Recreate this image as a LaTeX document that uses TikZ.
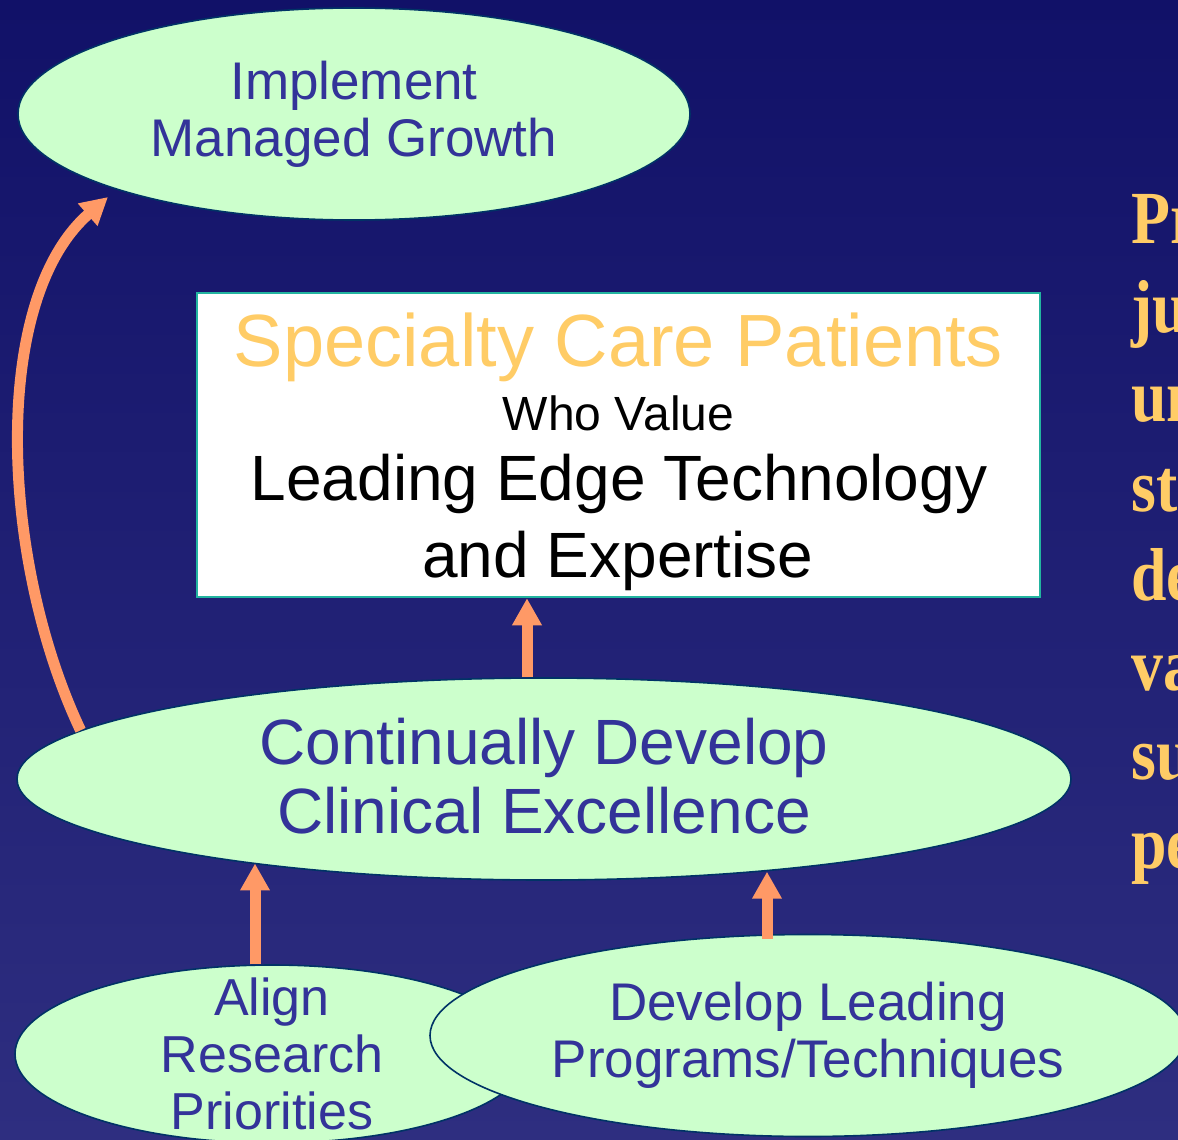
\documentclass[tikz,border=0pt]{standalone}
\usepackage{fontspec}
\setmainfont{Liberation Sans}
\newfontfamily\sidefont{Liberation Serif}
\usetikzlibrary{arrows.meta,shapes.geometric}

\definecolor{bgtop}{HTML}{111168}
\definecolor{bgbot}{HTML}{2E2E80}
\definecolor{leaf}{HTML}{CCFFCC}
\definecolor{leafline}{HTML}{003366}
\definecolor{ink}{HTML}{333399}
\definecolor{flow}{HTML}{FF9966}
\definecolor{gold}{HTML}{FFCC66}
\definecolor{frame}{HTML}{22B4A0}

\newcommand\fsz[2]{\fontsize{#1}{#2}\selectfont}

\begin{document}
\begin{tikzpicture}[x=1pt,y=-1pt,
  goal/.style={ellipse, draw=leafline, line width=1.6pt, fill=leaf,
    text=ink, inner sep=0pt, align=center},
  flowarrow/.style={draw=flow, line width=11pt,
    -{Triangle[width=28pt,length=27pt]}},
  boxline/.style={anchor=base, inner sep=0pt},
  sideline/.style={anchor=base west, inner sep=0pt, text=gold,
    font=\sidefont\bfseries\fsz{75}{75}},
]
\useasboundingbox (0,0) rectangle (1178,1140);

% background
\shade[top color=bgtop, bottom color=bgbot] (0,0) rectangle (1178,1140);

% goal ellipses
\node[goal, minimum width=672pt, minimum height=212pt, font=\fsz{53}{57}]
  (imp) at (354,114) {Implement\\Managed Growth};

\node[goal, minimum width=1054pt, minimum height=202pt, font=\fsz{64}{69}]
  (cont) at (544,779) {Continually Develop\\Clinical Excellence\rule[-7pt]{0pt}{0pt}};

\node[goal, minimum width=514pt, minimum height=178pt, inner ysep=-16pt,
  font=\fsz{52}{57}]
  (align) at (272,1054) {Align\\Research\\Priorities};

\node[goal, minimum width=756pt, minimum height=202pt, font=\fsz{53}{57}]
  (devlead) at (808,1035.5) {Develop Leading\\Programs/Techniques};

% central statement box
\node[draw=frame, line width=2.5pt, fill=white, minimum width=843pt,
  minimum height=304pt, inner sep=0pt] (box) at (618.5,445) {};
\node[boxline, text=gold] (head) at (618.5,366) {\fsz{74}{74}Specialty Care Patients};
\node[boxline] (who) at (618.5,430) {\fsz{48}{48}Who Value};
\node[boxline] (lead) at (619,500) {\fsz{64}{64}Leading Edge Technology};
\node[boxline] (expert) at (618,577) {\fsz{64}{64}and Expertise};

% connectors
\coordinate (xa) at (527,0);
\coordinate (xb) at (255,0);
\coordinate (xc) at (767,0);
\coordinate (growtip) at (108,197);

\draw[flowarrow] (xa |- cont.north) -- (xa |- box.south);
\draw[flowarrow] (xb |- align.north) -- (xb |- cont.196.4);
\draw[flowarrow] ([yshift=-5pt]xc |- devlead.north) -- (xc |- cont.337.7);
\draw[flowarrow] (cont.174.5) .. controls (0,560) and (-10,300) .. (growtip);

% side text, cut by the right edge
\begin{scope}
  \clip (0,0) rectangle (1178,1140);
  \foreach \w [count=\i] in {Pr,ju,un,st,de,va,su,pe}
    \node[sideline] (side\i) at ({1131},{243+89.4*(\i-1)}) {\scalebox{0.85}[1]{\w}};
\end{scope}
\end{tikzpicture}
\end{document}
